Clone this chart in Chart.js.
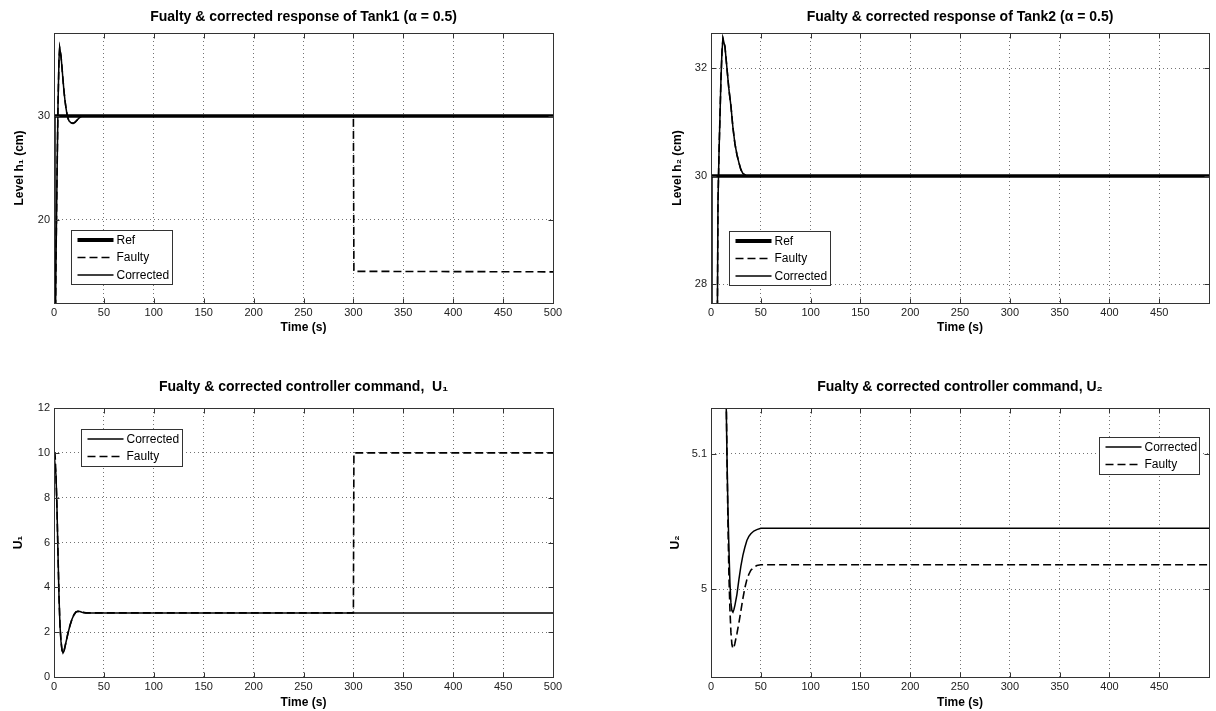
<!DOCTYPE html>
<html>
<head>
<meta charset="utf-8">
<script src="https://cdn.jsdelivr.net/npm/chart.js@4.4.0/dist/chart.umd.min.js"></script>
<style>
  body { margin: 0; background: #fff; width: 1216px; height: 711px; position: relative; overflow: hidden; }
  canvas { position: absolute; }
</style>
</head>
<body>
<canvas id="c1" width="600" height="345" style="left:0;top:0"></canvas>
<canvas id="c2" width="608" height="345" style="left:608px;top:0"></canvas>
<canvas id="c3" width="600" height="356" style="left:0;top:355px"></canvas>
<canvas id="c4" width="608" height="356" style="left:608px;top:355px"></canvas>
<script>
// Tick labels
const xTicksA = [0, 50, 100, 150, 200, 250, 300, 350, 400, 450, 500];
const xTicksB = [0, 50, 100, 150, 200, 250, 300, 350, 400, 450];
const yTicksH1 = [20, 30];
const yTicksH2 = [28, 30, 32];
const yTicksU1 = [0, 2, 4, 6, 8, 10, 12];
const yTicksU2 = [5, 5.1];

// Tank1 level h1 (cm)
const tH1Ref = [0, 0, 500];
const h1Ref = [0, 30, 30];
const tH1Corr = [0, 1, 2, 3, 4, 5, 5.7, 7, 8, 9, 10, 11, 12, 13, 14, 15, 17, 19, 21, 23, 25, 27.5, 300, 500];
const h1Corr = [0, 5, 16, 24, 31, 35.5, 36.55, 35.8, 34.7, 33.5, 32.4, 31.5, 30.8, 30.2, 29.8, 29.55, 29.35, 29.3, 29.4, 29.6, 29.8, 30, 30, 30];
const tH1Faulty = [0, 1, 2, 3, 4, 5, 5.7, 7, 8, 9, 10, 11, 12, 13, 14, 15, 17, 19, 21, 23, 25, 27.5, 300, 300.5, 500];
const h1Faulty = [0, 5, 16, 24, 31, 35.5, 36.55, 35.8, 34.7, 33.5, 32.4, 31.5, 30.8, 30.2, 29.8, 29.55, 29.35, 29.3, 29.4, 29.6, 29.8, 30, 30, 15.05, 15];

// Tank2 level h2 (cm)
const tH2Ref = [0, 0, 500];
const h2Ref = [0, 30, 30];
const tH2Corr = [0, 5.5, 6, 7, 8, 9, 10, 11, 12, 14, 16, 18, 20, 22, 24, 26, 28, 30, 32, 35, 40, 500];
const h2Corr = [0, 10, 26, 29.5, 30.4, 31.1, 31.8, 32.3, 32.55, 32.4, 32.0, 31.6, 31.3, 30.9, 30.6, 30.4, 30.25, 30.12, 30.05, 30.01, 30, 30];
const h2Faulty = h2Corr.slice();

// Controller command U1
const tU1Corr = [0, 1, 2, 3, 4, 5, 6, 7, 8, 9, 10, 11, 12, 14, 16, 18, 20, 22, 24, 26, 28, 32, 500];
const u1Corr = [10, 10, 9, 7.5, 5.5, 3.6, 2.3, 1.6, 1.2, 1.07, 1.15, 1.35, 1.55, 1.95, 2.3, 2.58, 2.78, 2.9, 2.93, 2.92, 2.89, 2.86, 2.86];
const tU1Faulty = [0, 1, 2, 3, 4, 5, 6, 7, 8, 9, 10, 11, 12, 14, 16, 18, 20, 22, 24, 26, 28, 32, 300, 300.5, 500];
const u1Faulty = [10, 10, 9, 7.5, 5.5, 3.6, 2.3, 1.6, 1.2, 1.07, 1.15, 1.35, 1.55, 1.95, 2.3, 2.58, 2.78, 2.9, 2.93, 2.92, 2.89, 2.86, 2.86, 10, 10];

// Controller command U2
const tU2 = [14, 15, 16, 17, 18, 19, 20, 21, 22, 23, 24, 26, 28, 30, 32, 34, 36, 38, 40, 43, 46, 50, 500];
const u2Corr = [5.3, 5.15, 5.10, 5.06, 5.03, 5.005, 4.99, 4.984, 4.983, 4.985, 4.988, 4.996, 5.007, 5.017, 5.025, 5.031, 5.036, 5.039, 5.041, 5.043, 5.044, 5.045, 5.045];
const u2Faulty = [5.3, 5.16, 5.10, 5.05, 5.01, 4.985, 4.968, 4.959, 4.956, 4.957, 4.96, 4.967, 4.975, 4.984, 4.993, 5.001, 5.007, 5.011, 5.014, 5.016, 5.0175, 5.018, 5.018];

const pts = (t, v) => t.map((x, i) => ({ x: x, y: v[i] }));
const tickFont = { family: '"Liberation Sans Narrow", "Liberation Sans", Arial, sans-serif', size: 11 };
const boldFont = { family: '"Liberation Sans", Arial, sans-serif', size: 12, weight: 'bold' };
const titleFont = { family: '"Liberation Sans", Arial, sans-serif', size: 14, weight: 'bold' };

function line(label, data, kind) {
  const ds = { label: label, data: data, borderColor: '#000', pointRadius: 0, tension: 0, clip: 0, fill: false };
  if (kind === 'ref') { ds.borderWidth = 3.5; }
  else if (kind === 'dash') { ds.borderWidth = 1.6; ds.borderDash = [8, 4]; }
  else { ds.borderWidth = 1.5; }
  return ds;
}

// box, inward tick marks and boxed legend like the original figure
const matlabAxes = {
  id: 'matlabAxes',
  afterDraw(chart, args, opts) {
    const { ctx, chartArea: a, scales } = chart;
    ctx.save();
    ctx.setLineDash([]);
    ctx.strokeStyle = '#333';
    ctx.lineWidth = 1;
    const L = Math.round(a.left) + 0.5, T = Math.round(a.top) + 0.5;
    const R = Math.round(a.right) + 0.5, B = Math.round(a.bottom) + 0.5;
    ctx.strokeRect(L, T, R - L, B - T);
    ctx.beginPath();
    scales.x.ticks.forEach(tk => {
      const px = Math.round(scales.x.getPixelForValue(tk.value)) + 0.5;
      ctx.moveTo(px, B); ctx.lineTo(px, B - 5);
      ctx.moveTo(px, T); ctx.lineTo(px, T + 5);
    });
    scales.y.ticks.forEach(tk => {
      const py = Math.round(scales.y.getPixelForValue(tk.value)) + 0.5;
      ctx.moveTo(L, py); ctx.lineTo(L + 5, py);
      ctx.moveTo(R, py); ctx.lineTo(R - 5, py);
    });
    ctx.stroke();

    const lg = opts.legend;
    if (lg) {
      const bx = Math.round(a.left + lg.x) + 0.5, by = Math.round(a.top + lg.y) + 0.5;
      ctx.fillStyle = '#fff';
      ctx.fillRect(bx, by, lg.w, lg.h);
      ctx.strokeStyle = '#333';
      ctx.strokeRect(bx, by, lg.w, lg.h);
      ctx.font = '12px "Liberation Sans Narrow", "Liberation Sans", Arial, sans-serif';
      ctx.textBaseline = 'middle';
      lg.order.forEach((di, i) => {
        const ds = chart.data.datasets[di];
        const yy = by + 9.5 + i * 17.5;
        ctx.beginPath();
        ctx.strokeStyle = '#000';
        ctx.lineWidth = ds.borderWidth === 3.5 ? 4 : 1.5;
        ctx.setLineDash(ds.borderDash || []);
        ctx.moveTo(bx + 6, yy); ctx.lineTo(bx + 42, yy);
        ctx.stroke();
        ctx.setLineDash([]);
        ctx.fillStyle = '#000';
        ctx.fillText(ds.label, bx + 45, yy + 0.5);
      });
    }
    ctx.restore();
  }
};

function makeChart(id, cfg) {
  const fixTicks = vals => s => { s.ticks = vals.map(v => ({ value: v })); };
  return new Chart(document.getElementById(id), {
    type: 'line',
    data: { datasets: cfg.datasets },
    plugins: [matlabAxes],
    options: {
      responsive: false,
      animation: false,
      devicePixelRatio: 1,
      layout: { padding: { left: 0, top: 0, right: cfg.padRight, bottom: 0 } },
      plugins: {
        legend: { display: false },
        tooltip: { enabled: false },
        title: {
          display: true, text: cfg.title, color: '#000', font: titleFont, fullSize: false,
          padding: { top: cfg.titleTop, bottom: cfg.titleBottom }
        },
        matlabAxes: { legend: cfg.legend }
      },
      scales: {
        x: {
          type: 'linear', min: 0, max: cfg.xMax,
          afterBuildTicks: fixTicks(cfg.xTicks),
          afterFit: s => { s.height = cfg.xHeight; },
          grid: { color: 'rgba(0,0,0,0.55)', lineWidth: 1, drawTicks: false },
          border: { display: false, dash: [1, 3] },
          ticks: { autoSkip: false, maxRotation: 0, padding: 3, color: '#222', font: tickFont, callback: v => String(v) },
          title: { display: true, text: 'Time (s)', color: '#000', font: boldFont, padding: { top: 0, bottom: cfg.xTitlePad } }
        },
        y: {
          type: 'linear', min: cfg.yMin, max: cfg.yMax,
          afterBuildTicks: fixTicks(cfg.yTicks),
          afterFit: s => { s.width = cfg.yWidth; },
          grid: { color: 'rgba(0,0,0,0.55)', lineWidth: 1, drawTicks: false },
          border: { display: false, dash: [1, 3] },
          ticks: { autoSkip: false, padding: 4, color: '#222', font: tickFont, callback: v => String(v) },
          title: { display: true, text: cfg.yTitle, color: '#000', font: boldFont, padding: { top: cfg.yTitlePad, bottom: 0 } }
        }
      }
    }
  });
}

makeChart('c1', {
  title: 'Fualty & corrected response of Tank1 (\u03b1 = 0.5)',
  yTitle: 'Level h\u2081 (cm)',
  datasets: [
    line('Ref', pts(tH1Ref, h1Ref), 'ref'),
    line('Faulty', pts(tH1Faulty, h1Faulty), 'dash'),
    line('Corrected', pts(tH1Corr, h1Corr), 'solid')
  ],
  legend: { x: 17, y: 197, w: 101, h: 54, order: [0, 1, 2] },
  xMax: 500, xTicks: xTicksA, yMin: 12, yMax: 38, yTicks: yTicksH1,
  padRight: 47, titleTop: 8.8, titleBottom: 7.4, yWidth: 54, xHeight: 42, xTitlePad: 10.4, yTitlePad: 12.5
});

makeChart('c2', {
  title: 'Fualty & corrected response of Tank2 (\u03b1 = 0.5)',
  yTitle: 'Level h\u2082 (cm)',
  datasets: [
    line('Ref', pts(tH2Ref, h2Ref), 'ref'),
    line('Faulty', pts(tH2Corr, h2Faulty), 'dash'),
    line('Corrected', pts(tH2Corr, h2Corr), 'solid')
  ],
  legend: { x: 18, y: 198, w: 101, h: 54, order: [0, 1, 2] },
  xMax: 499.9, xTicks: xTicksB, yMin: 27.65, yMax: 32.65, yTicks: yTicksH2,
  padRight: 7, titleTop: 8.8, titleBottom: 7.4, yWidth: 103, xHeight: 42, xTitlePad: 10.4, yTitlePad: 62.5
});

makeChart('c3', {
  title: 'Fualty & corrected controller command,  U\u2081',
  yTitle: 'U\u2081',
  datasets: [
    line('Corrected', pts(tU1Corr, u1Corr), 'solid'),
    line('Faulty', pts(tU1Faulty, u1Faulty), 'dash')
  ],
  legend: { x: 27, y: 21, w: 101, h: 37, order: [0, 1] },
  xMax: 500, xTicks: xTicksA, yMin: 0, yMax: 12, yTicks: yTicksU1,
  padRight: 47, titleTop: 23.6, titleBottom: 12.6, yWidth: 54, xHeight: 34, xTitlePad: 1.4, yTitlePad: 11
});

makeChart('c4', {
  title: 'Fualty & corrected controller command, U\u2082',
  yTitle: 'U\u2082',
  datasets: [
    line('Corrected', pts(tU2, u2Corr), 'solid'),
    line('Faulty', pts(tU2, u2Faulty), 'dash')
  ],
  legend: { x: 388, y: 29, w: 100, h: 37, order: [0, 1] },
  xMax: 499.9, xTicks: xTicksB, yMin: 4.935, yMax: 5.134, yTicks: yTicksU2,
  padRight: 7, titleTop: 23.6, titleBottom: 12.6, yWidth: 103, xHeight: 34, xTitlePad: 1.4, yTitlePad: 60
});
</script>
</body>
</html>
